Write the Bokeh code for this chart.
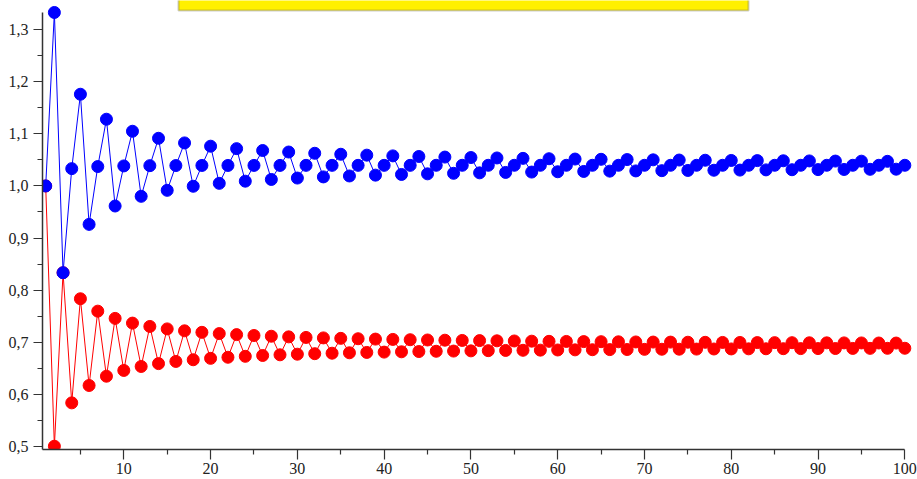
from bokeh.plotting import figure
from bokeh.models import Range1d, LinearAxis, FixedTicker, CustomJSTickFormatter, BoxAnnotation
from bokeh.embed import file_html
from bokeh.resources import INLINE

n = list(range(1, 101))

red_sums = [
    1.0, 0.5, 0.8333, 0.5833, 0.7833, 0.6167, 0.7595, 0.6345, 0.7456, 0.6456,
    0.7365, 0.6532, 0.7301, 0.6587, 0.7254, 0.6629, 0.7217, 0.6661, 0.7188, 0.6688,
    0.7164, 0.6709, 0.7144, 0.6727, 0.7127, 0.6743, 0.7113, 0.6756, 0.7101, 0.6768,
    0.7090, 0.6778, 0.7081, 0.6787, 0.7072, 0.6795, 0.7065, 0.6802, 0.7058, 0.6808,
    0.7052, 0.6814, 0.7046, 0.6819, 0.7041, 0.6824, 0.7037, 0.6828, 0.7032, 0.6832,
    0.7029, 0.6836, 0.7025, 0.6840, 0.7022, 0.6843, 0.7018, 0.6846, 0.7015, 0.6849,
    0.7013, 0.6851, 0.7010, 0.6854, 0.7008, 0.6856, 0.7006, 0.6858, 0.7003, 0.6861,
    0.7001, 0.6863, 0.7000, 0.6864, 0.6998, 0.6866, 0.6996, 0.6868, 0.6994, 0.6869,
    0.6993, 0.6871, 0.6991, 0.6872, 0.6990, 0.6874, 0.6989, 0.6875, 0.6987, 0.6876,
    0.6986, 0.6877, 0.6985, 0.6879, 0.6984, 0.6880, 0.6983, 0.6881, 0.6982, 0.6882,
]

blue_sums = [
    1.0, 1.3333, 0.8333, 1.0333, 1.1762, 0.9262, 1.0373, 1.1282, 0.9615, 1.0385,
    1.1051, 0.9801, 1.0390, 1.0916, 0.9916, 1.0392, 1.0827, 0.9994, 1.0394, 1.0764,
    1.0050, 1.0394, 1.0717, 1.0092, 1.0395, 1.0681, 1.0125, 1.0395, 1.0652, 1.0152,
    1.0396, 1.0628, 1.0174, 1.0396, 1.0609, 1.0192, 1.0396, 1.0592, 1.0208, 1.0396,
    1.0578, 1.0221, 1.0396, 1.0566, 1.0233, 1.0397, 1.0555, 1.0243, 1.0397, 1.0546,
    1.0252, 1.0397, 1.0538, 1.0260, 1.0397, 1.0530, 1.0267, 1.0397, 1.0523, 1.0273,
    1.0397, 1.0517, 1.0279, 1.0397, 1.0512, 1.0285, 1.0397, 1.0507, 1.0289, 1.0397,
    1.0502, 1.0294, 1.0397, 1.0498, 1.0298, 1.0397, 1.0494, 1.0302, 1.0397, 1.0490,
    1.0305, 1.0397, 1.0487, 1.0309, 1.0397, 1.0484, 1.0312, 1.0397, 1.0481, 1.0314,
    1.0397, 1.0478, 1.0317, 1.0397, 1.0476, 1.0320, 1.0397, 1.0473, 1.0322, 1.0397,
]

x_ticks = [10, 20, 30, 40, 50, 60, 70, 80, 90, 100]
x_minor_ticks = [5, 15, 25, 35, 45, 55, 65, 75, 85, 95]
y_ticks = [0.5, 0.6, 0.7, 0.8, 0.9, 1.0, 1.1, 1.2, 1.3]
y_minor_ticks = [0.55, 0.65, 0.75, 0.85, 0.95, 1.05, 1.15, 1.25]

p = figure(width=917, height=479, output_backend="svg", toolbar_location=None,
           x_range=Range1d(0.631, 101.0), y_range=Range1d(0.4937, 1.3563),
           x_axis_location=None, y_axis_location=None,
           min_border_left=42, min_border_right=4, min_border_top=0, min_border_bottom=30,
           outline_line_color=None, background_fill_color="white",
           border_fill_color="white")
p.grid.grid_line_color = None

axis_color = "#333333"
font = "Times New Roman"

xaxis = LinearAxis(ticker=FixedTicker(ticks=x_ticks, minor_ticks=x_minor_ticks),
                   bounds=(0.631, 100))
yaxis = LinearAxis(ticker=FixedTicker(ticks=y_ticks, minor_ticks=y_minor_ticks),
                   bounds=(0.4937, 1.3333),
                   formatter=CustomJSTickFormatter(code="return tick.toFixed(1).replace('.', ',');"))
for ax in (xaxis, yaxis):
    ax.axis_line_color = axis_color
    ax.axis_line_width = 1.5
    ax.major_tick_line_color = axis_color
    ax.minor_tick_line_color = axis_color
    ax.major_tick_line_width = 1.2
    ax.minor_tick_line_width = 1.2
    ax.major_tick_in = 0
    ax.minor_tick_in = 0
    ax.minor_tick_out = 5
    ax.major_label_text_font = font
    ax.major_label_text_font_size = "16px"
    ax.major_label_text_color = "#222222"
xaxis.major_tick_out = 10
xaxis.major_label_standoff = 3
yaxis.major_tick_out = 9
yaxis.major_label_standoff = 5
p.add_layout(xaxis, "below")
p.add_layout(yaxis, "left")

p.line(n, red_sums, line_color="#FF0000", line_width=1)
p.scatter(n, red_sums, size=12, fill_color="#FF0000", line_color="#FF0000")
p.line(n, blue_sums, line_color="#0000FF", line_width=1)
p.scatter(n, blue_sums, size=12, fill_color="#0000FF", line_color="#0000FF")

title_box = BoxAnnotation(left=178, right=748, top=-10, bottom=10,
                          left_units="canvas", right_units="canvas",
                          top_units="canvas", bottom_units="canvas",
                          fill_color="#FFF000", fill_alpha=1.0,
                          line_color="#555555", line_width=2, level="overlay")
p.add_layout(title_box)

open("out.html", "w").write(file_html(p, INLINE))
